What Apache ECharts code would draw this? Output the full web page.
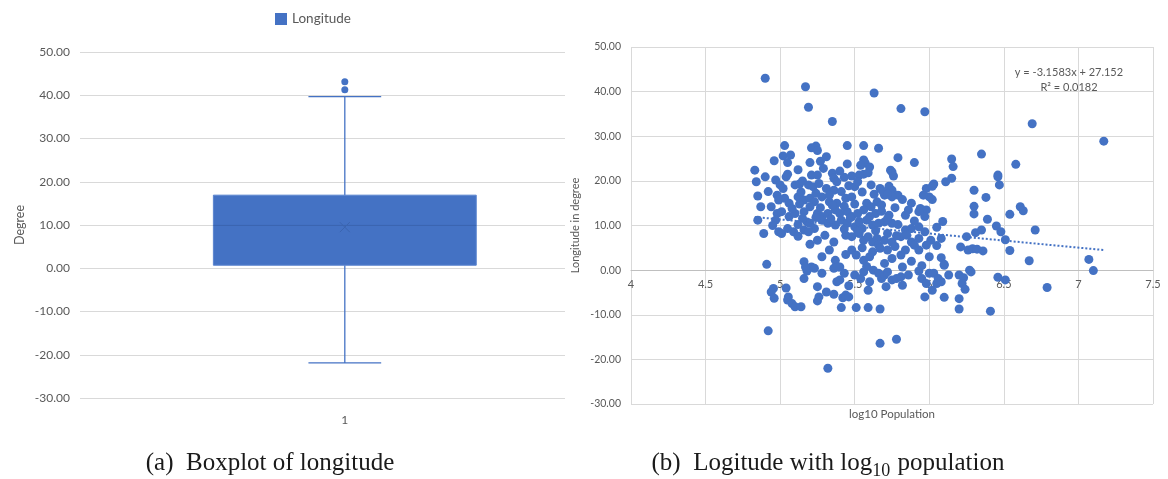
<!DOCTYPE html>
<html>
<head>
<meta charset="utf-8">
<script src="https://cdn.jsdelivr.net/npm/echarts@6/dist/echarts.min.js"></script>
<style>
  html, body { margin: 0; padding: 0; background: #ffffff; }
  #chart { width: 1168px; height: 479px; }
</style>
</head>
<body>
<div id="chart"></div>
<script>
// ---- Boxplot of longitude (degrees) ----
const boxCategories = ['1'];
const boxSeriesName = 'Longitude';
// [lower whisker, Q1, median, Q3, upper whisker, mean]
const boxStats = [-21.9, 0.7, 9.9, 16.9, 39.7, 9.5];
const boxOutliers = [43.1, 41.3];

// ---- Longitude vs log10 population ----
const logPopulation = [
  4.90, 5.17, 5.63, 5.19, 5.81, 5.97, 5.35, 6.69, 7.17,
  5.03, 5.21, 5.24, 5.25, 5.45, 5.56, 5.66, 5.02, 5.07, 5.05, 4.96, 4.83, 5.20, 5.27, 5.31, 5.45, 5.56, 5.57, 5.54, 5.60, 5.79, 5.90, 5.74, 6.15, 6.16, 6.35, 6.58, 6.46,
  4.90, 5.04, 5.21, 5.25, 5.35, 5.36, 5.43, 5.48, 5.53, 5.56, 5.59, 5.75, 5.76, 6.46, 6.47, 6.15, 6.11, 6.03, 6.30, 6.38, 6.02,
  4.84, 4.97, 5.00, 5.02, 5.10, 5.13, 5.19, 5.22, 5.26, 5.31, 5.36, 5.41, 5.50, 5.61, 5.67, 5.73, 5.75, 5.79, 5.98, 6.02,
  4.85, 4.92, 4.98, 4.99, 5.03, 5.06, 5.12, 5.16, 5.20, 5.23, 5.28, 5.33, 5.38, 5.44, 5.48, 5.58, 5.61, 5.65, 5.68, 5.70, 5.75, 5.88, 5.94, 5.98, 6.00, 5.69, 5.72, 5.96,
  6.30, 6.30, 6.54, 6.61, 6.63, 6.39, 6.09, 6.05, 6.45, 6.48, 6.71, 6.31, 6.35, 6.25, 6.51, 6.08, 6.01, 6.05, 6.21, 6.26, 6.29, 6.32, 6.36, 6.54, 6.08, 6.10, 6.67, 7.07, 7.10, 6.27,
  4.87, 4.94, 4.98, 5.01, 5.06, 5.10, 5.16, 5.20, 5.25, 5.28, 5.32, 5.37, 5.40, 5.45, 5.48, 5.52, 5.64, 5.73, 5.84, 5.93, 5.97,
  4.85, 4.97, 5.18, 5.20, 5.23, 5.28, 5.32, 5.37, 5.41, 5.45, 5.50, 5.55, 5.58, 5.62, 5.66, 5.70, 5.75, 5.84, 5.88, 5.93, 5.97,
  4.89, 4.99, 5.01, 5.09, 5.16, 5.19, 5.25, 5.30, 5.36, 5.44, 5.48, 5.53, 5.56, 5.59, 5.62, 5.65, 5.66, 5.70, 5.75, 5.81, 5.88, 5.93, 5.98,
  4.91, 5.16, 5.21, 5.37, 5.40, 5.48, 5.51, 5.56, 5.60, 5.62, 5.67, 5.75, 5.81, 5.84, 5.93, 6.00,
  4.92, 5.32, 5.67, 5.78, 4.955, 4.94, 4.96, 5.04, 5.055, 5.05, 5.08, 5.10, 5.14, 5.16, 5.18, 5.23, 5.28, 5.25, 5.26, 5.25, 5.31, 5.36, 5.38, 5.40, 5.43, 5.41, 5.42, 5.44, 5.46, 5.46, 5.51, 5.59, 5.67,
  5.50, 5.54, 5.56, 5.59, 5.60, 5.625, 5.66, 5.68, 5.70, 5.71, 5.72, 5.75, 5.78, 5.81, 5.82, 5.86, 5.93, 5.95, 5.98, 5.97, 6.00, 5.82, 5.36, 5.39, 5.17,
  6.28, 6.20, 6.23, 6.22, 6.24, 6.13, 6.03, 6.06, 6.08, 6.05, 6.02, 6.10, 6.79, 6.10, 6.20, 6.20, 6.41, 6.46, 6.51,
  5.05, 5.12, 5.15, 5.29, 5.40, 5.14, 5.24, 5.33, 5.46, 5.55, 5.63, 5.52, 5.38, 5.08, 5.13, 5.27, 5.35, 5.43, 5.50, 5.56,
  5.68, 5.77, 5.82, 5.86, 5.12, 5.15, 5.24, 5.34, 5.47, 5.53, 5.60, 5.72, 5.79, 5.90, 5.43, 5.52, 5.64, 5.72, 5.78, 5.85,
  5.90, 5.72, 5.77, 5.55, 5.44, 5.88, 5.95, 5.70, 5.58, 5.05, 4.95, 5.12, 5.20, 5.33, 5.28
];
const longitudeDeg = [
  43.0, 41.1, 39.7, 36.5, 36.2, 35.5, 33.3, 32.8, 28.9,
  27.9, 27.4, 27.8, 26.8, 27.9, 27.9, 27.3, 25.6, 25.8, 24.1, 24.5, 22.4, 24.1, 24.4, 25.4, 23.8, 24.7, 24.0, 23.5, 23.1, 25.2, 24.1, 22.4, 24.9, 23.2, 26.0, 23.7, 21.3,
  20.9, 20.9, 21.3, 21.3, 21.7, 20.6, 20.8, 21.1, 21.3, 21.5, 21.8, 22.0, 21.1, 20.9, 19.1, 20.6, 19.8, 19.3, 17.9, 16.3, 15.8,
  19.8, 20.2, 19.1, 18.3, 19.1, 19.3, 19.1, 18.7, 19.4, 18.3, 17.9, 17.6, 18.7, 19.1, 18.3, 18.8, 17.9, 16.8, 18.3, 18.8,
  16.6, 17.6, 16.8, 15.7, 16.1, 15.0, 16.4, 15.7, 16.1, 15.3, 16.4, 15.3, 15.0, 16.1, 16.4, 15.0, 14.2, 15.3, 14.6, 16.8, 16.4, 15.0, 13.8, 13.5, 16.4, 17.6, 17.0, 16.8,
  14.3, 12.6, 12.5, 14.2, 13.3, 11.4, 10.9, 9.6, 9.9, 8.6, 9.0, 8.4, 9.0, 7.5, 6.8, 7.1, 6.7, 5.5, 5.2, 4.5, 4.8, 4.7, 4.3, 4.4, 2.8, 1.3, 2.1, 2.4, -0.1, 0.0,
  14.2, 14.2, 12.7, 13.1, 12.0, 12.7, 13.1, 14.2, 12.7, 12.0, 12.7, 13.5, 12.7, 13.1, 12.0, 12.7, 12.7, 12.3, 12.3, 13.1, 12.0,
  11.2, 11.2, 10.8, 10.5, 9.3, 11.2, 10.5, 10.1, 11.2, 10.5, 9.7, 9.3, 11.2, 10.1, 10.5, 10.8, 10.5, 9.0, 9.3, 9.7, 8.6,
  8.2, 8.6, 8.2, 8.6, 9.0, 8.6, 6.7, 7.8, 6.3, 7.8, 7.5, 8.2, 6.7, 7.5, 6.3, 7.1, 5.6, 6.7, 6.3, 7.5, 6.3, 7.1, 5.6,
  1.3, 1.9, 0.7, 2.2, 0.7, 4.5, 3.4, 2.2, 3.0, 4.1, 4.9, 2.6, 3.4, 4.5, 4.5, 3.0,
  -13.6, -22.0, -16.4, -15.5, -4.1, -4.9, -6.3, -4.0, -6.0, -6.7, -7.5, -8.2, -8.2, -1.9, -0.2, 0.4, -0.7, -3.7, -6.0, -6.9, -4.9, -5.4, -2.6, -2.2, -0.7, -8.4, -6.2, -5.6, -6.0, -3.5, -8.4, -8.4, -8.7,
  -1.1, -1.9, -0.4, -4.5, -2.6, 0.0, -0.7, -1.9, -1.1, -3.7, -0.4, -2.2, -1.9, -1.5, -3.4, -1.1, -0.2, -1.9, -3.0, -6.0, -0.7, 0.7, 0.4, 0.7, 0.7,
  -0.4, -1.1, -1.7, -3.0, -4.3, -1.1, -0.7, -1.9, -2.6, -3.0, -4.5, 1.1, -3.9, -6.1, -6.4, -8.7, -9.2, -1.6, -2.2,
  21.5, 22.5, 20.0, 22.8, 22.2, 17.5, 17.2, 16.8, 18.9, 17.5, 17.0, 19.8, 19.8, 13.8, 14.8, 14.0, 14.5, 14.3, 14.8, 13.5,
  13.2, 14.0, 15.8, 13.5, 10.2, 11.6, 11.8, 11.5, 11.7, 10.9, 12.0, 11.5, 10.2, 11.0, 9.2, 8.7, 8.8, 8.2, 7.7, 7.8,
  5.6, 4.5, 5.3, 5.0, 3.5, 2.0, 1.0, 1.5, 0.8, 9.3, 10.0, 7.6, 5.8, 4.5, 3.0
];
// Linear trendline reported for the scatter
const trendSlope = -3.1583;
const trendIntercept = 27.152;
const trendR2 = 0.0182;

const yTicks = { min: -30, max: 50, interval: 10 };
const xTicks = { min: 4, max: 7.5, interval: 0.5 };

// horizontal placement of the single box on a 0..1 band
const boxBand = { min: 0, max: 1, center: 0.546, boxWidth: 0.542, capWidth: 0.15 };

const BLUE = '#4472C4';
const GRID_GRAY = '#D9D9D9';
const TEXT_GRAY = '#595959';
const UI_FONT = 'Lato, "Open Sans", sans-serif';
const CAPTION_FONT = '"Liberation Serif", "DejaVu Serif", serif';

const scatterGrid = { left: 631, top: 47, width: 522, height: 357 };
// the x axis of the scatter crosses the y axis at zero
const zeroLineOffset = -scatterGrid.height * (0 - yTicks.min) / (yTicks.max - yTicks.min);

const scatterData = logPopulation.map((x, i) => [x, longitudeDeg[i]]);
const xLo = Math.min(...logPopulation);
const xHi = Math.max(...logPopulation);
const trendData = [xLo, xHi].map(x => [x, trendSlope * x + trendIntercept]);

const chart = echarts.init(document.getElementById('chart'), null, { renderer: 'canvas' });

chart.setOption({
  animation: false,
  backgroundColor: '#ffffff',
  textStyle: { fontFamily: UI_FONT },
  legend: {
    data: [{ name: boxSeriesName, icon: 'rect' }],
    left: 270, top: 7,
    itemWidth: 12, itemHeight: 12, itemGap: 6,
    textStyle: { color: TEXT_GRAY, fontSize: 13.5, fontFamily: UI_FONT }
  },
  grid: [
    { left: 80, top: 52, width: 485, height: 346 },
    scatterGrid
  ],
  xAxis: [
    {
      gridIndex: 0, type: 'value',
      min: boxBand.min, max: boxBand.max,
      axisLine: { show: false }, axisTick: { show: false },
      axisLabel: {
        color: TEXT_GRAY, fontSize: 12, margin: 16,
        customValues: [boxBand.center],
        formatter: () => boxCategories[0]
      },
      splitLine: { show: false }
    },
    {
      gridIndex: 1, type: 'value', position: 'bottom', offset: zeroLineOffset,
      min: xTicks.min, max: xTicks.max, interval: xTicks.interval,
      axisLine: { show: true, onZero: false, lineStyle: { color: '#BFBFBF', width: 1 } },
      axisTick: { show: false },
      axisLabel: { color: TEXT_GRAY, fontSize: 11, margin: 9 },
      splitLine: { show: true, lineStyle: { color: GRID_GRAY, width: 1 } }
    }
  ],
  yAxis: [
    {
      gridIndex: 0, type: 'value',
      min: yTicks.min, max: yTicks.max, interval: yTicks.interval,
      name: 'Degree', nameLocation: 'middle', nameGap: 54, nameRotate: 90,
      nameTextStyle: { color: TEXT_GRAY, fontSize: 12.5 },
      axisLine: { show: false }, axisTick: { show: false },
      axisLabel: { color: TEXT_GRAY, fontSize: 12, margin: 10, formatter: v => v.toFixed(2) },
      splitLine: { show: true, lineStyle: { color: GRID_GRAY, width: 1 } }
    },
    {
      gridIndex: 1, type: 'value',
      min: yTicks.min, max: yTicks.max, interval: yTicks.interval,
      name: 'Longitude in degree', nameLocation: 'middle', nameGap: 50, nameRotate: 90,
      nameTextStyle: { color: TEXT_GRAY, fontSize: 11 },
      axisLine: { show: false }, axisTick: { show: false },
      axisLabel: { color: TEXT_GRAY, fontSize: 10.5, margin: 10, formatter: v => v.toFixed(2) },
      splitLine: { show: true, lineStyle: { color: GRID_GRAY, width: 1 } }
    }
  ],
  series: [
    {
      // box, whiskers, median line and mean marker
      name: boxSeriesName, type: 'custom',
      xAxisIndex: 0, yAxisIndex: 0,
      itemStyle: { color: BLUE },
      data: [[boxBand.center, ...boxStats]],
      renderItem(params, api) {
        const pos = api.value(0);
        const boxW = api.size([boxBand.boxWidth, 0])[0];
        const capW = api.size([boxBand.capWidth, 0])[0];
        const pLow = api.coord([pos, api.value(1)]);
        const pQ1 = api.coord([pos, api.value(2)]);
        const pMed = api.coord([pos, api.value(3)]);
        const pQ3 = api.coord([pos, api.value(4)]);
        const pHigh = api.coord([pos, api.value(5)]);
        const pMean = api.coord([pos, api.value(6)]);
        const cx = pQ1[0];
        const line = (x1, y1, x2, y2, color, w) => ({
          type: 'line', shape: { x1, y1, x2, y2 },
          style: { stroke: color, lineWidth: w }
        });
        const m = 5;
        return {
          type: 'group',
          children: [
            line(cx, pQ3[1], cx, pHigh[1], BLUE, 1.3),
            line(cx, pQ1[1], cx, pLow[1], BLUE, 1.3),
            line(cx - capW / 2, pHigh[1], cx + capW / 2, pHigh[1], BLUE, 1.3),
            line(cx - capW / 2, pLow[1], cx + capW / 2, pLow[1], BLUE, 1.3),
            {
              type: 'rect',
              shape: { x: cx - boxW / 2, y: pQ3[1], width: boxW, height: pQ1[1] - pQ3[1] },
              style: { fill: BLUE, stroke: '#5A84CF', lineWidth: 1 }
            },
            line(cx - boxW / 2, pMed[1], cx + boxW / 2, pMed[1], '#3B65B0', 1),
            line(cx - m, pMean[1] - m, cx + m, pMean[1] + m, '#3B65B0', 1),
            line(cx - m, pMean[1] + m, cx + m, pMean[1] - m, '#3B65B0', 1)
          ]
        };
      }
    },
    {
      name: boxSeriesName, type: 'scatter',
      xAxisIndex: 0, yAxisIndex: 0,
      symbolSize: 7, itemStyle: { color: BLUE, opacity: 1 },
      data: boxOutliers.map(v => [boxBand.center, v])
    },
    {
      name: 'Longitude vs population', type: 'scatter',
      xAxisIndex: 1, yAxisIndex: 1,
      symbolSize: 9, itemStyle: { color: BLUE, opacity: 1 },
      data: scatterData, z: 3
    },
    {
      name: 'Linear trend', type: 'line',
      xAxisIndex: 1, yAxisIndex: 1,
      data: trendData, symbol: 'none', z: 4,
      lineStyle: { color: BLUE, width: 2, type: [2, 2] }
    }
  ],
  graphic: [
    {
      type: 'text', x: 1069, y: 72,
      style: {
        text: 'y = ' + trendSlope + 'x + ' + trendIntercept,
        align: 'center', verticalAlign: 'middle',
        fill: TEXT_GRAY, font: '11px ' + UI_FONT
      }
    },
    {
      type: 'text', x: 1069, y: 87,
      style: {
        text: 'R² = ' + trendR2,
        align: 'center', verticalAlign: 'middle',
        fill: TEXT_GRAY, font: '11px ' + UI_FONT
      }
    },
    {
      type: 'text', x: 892, y: 414,
      style: {
        text: 'log10 Population',
        align: 'center', verticalAlign: 'middle',
        fill: TEXT_GRAY, font: '11.5px ' + UI_FONT
      }
    },
    {
      type: 'text', x: 270, y: 463,
      style: {
        text: '(a)  Boxplot of longitude',
        align: 'center', verticalAlign: 'middle',
        fill: '#1a1a1a', font: '25px ' + CAPTION_FONT
      }
    },
    {
      type: 'text', x: 828, y: 463,
      style: {
        text: '{t|(b)  Logitude with log}{s|10}{t| population}',
        align: 'center', verticalAlign: 'middle',
        rich: {
          t: { fill: '#1a1a1a', fontSize: 25, fontFamily: CAPTION_FONT, verticalAlign: 'bottom' },
          s: { fill: '#1a1a1a', fontSize: 18, fontFamily: CAPTION_FONT, verticalAlign: 'bottom', padding: [0, 1, -5, 0] }
        }
      }
    }
  ]
});
</script>
</body>
</html>
